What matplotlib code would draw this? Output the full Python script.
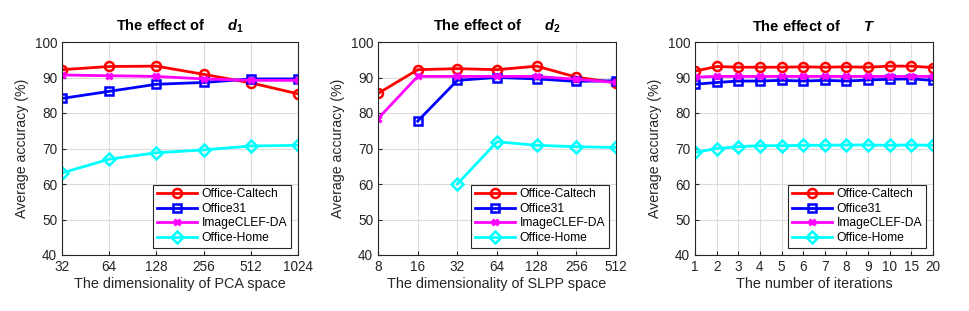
import numpy as np
import matplotlib
matplotlib.use("Agg")
import matplotlib.pyplot as plt

plt.rcParams['font.family'] = ['Liberation Sans', 'DejaVu Sans']
plt.rcParams['mathtext.fontset'] = 'custom'
plt.rcParams['mathtext.it'] = 'Liberation Sans:italic:bold'
plt.rcParams['mathtext.rm'] = 'Liberation Sans:bold'

series_names = ['Office-Caltech', 'Office31', 'ImageCLEF-DA', 'Office-Home']
nan = np.nan

# Panel 1: PCA dimensionality
d1_ticks = ['32', '64', '128', '256', '512', '1024']
d1_caltech = [92.2, 93.1, 93.2, 90.9, 88.5, 85.4]
d1_office31 = [84.1, 86.1, 88.1, 88.6, 89.6, 89.6]
d1_imageclef = [90.7, 90.5, 90.3, 89.6, 89.2, 89.2]
d1_home = [63.1, 67.0, 68.8, 69.6, 70.7, 70.9]

# Panel 2: SLPP dimensionality
d2_ticks = ['8', '16', '32', '64', '128', '256', '512']
d2_caltech = [85.5, 92.2, 92.5, 92.2, 93.2, 90.1, 88.5]
d2_office31 = [nan, 77.7, 89.2, 90.0, 89.6, 88.9, 89.1]
d2_imageclef = [78.4, 90.3, 90.3, 90.3, 90.3, 89.5, 88.6]
d2_home = [nan, nan, 60.0, 71.9, 70.9, 70.5, 70.3]

# Panel 3: iterations
t_ticks = ['1', '2', '3', '4', '5', '6', '7', '8', '9', '10', '15', '20']
t_caltech = [91.8, 93.1, 92.9, 92.9, 92.9, 93.0, 92.9, 93.0, 92.9, 93.2, 93.2, 92.8]
t_office31 = [88.1, 88.6, 89.0, 89.0, 89.2, 89.0, 89.2, 89.0, 89.3, 89.5, 89.6, 89.2]
t_imageclef = [90.1, 90.3, 90.3, 90.3, 90.3, 90.3, 90.3, 90.3, 90.3, 90.3, 90.3, 90.3]
t_home = [68.9, 70.0, 70.5, 70.8, 70.8, 70.9, 70.9, 71.0, 71.0, 70.9, 71.0, 70.9]

titles = [r'The effect of      $d_1$', r'The effect of      $d_2$', r'The effect of      $T$']
xlabels = ['The dimensionality of PCA space', 'The dimensionality of SLPP space',
           'The number of iterations']

panels = [
    (d1_ticks, [d1_caltech, d1_office31, d1_imageclef, d1_home]),
    (d2_ticks, [d2_caltech, d2_office31, d2_imageclef, d2_home]),
    (t_ticks, [t_caltech, t_office31, t_imageclef, t_home]),
]

colors = ['#ff0000', '#0000ff', '#ff00ff', '#00ffff']
markers = ['o', 's', 'x', 'D']
msizes = [6.5, 6, 4.5, 6.2]

W, H = 969, 311
fig = plt.figure(figsize=(W / 100, H / 100), dpi=100)
lefts = [62, 378, 695]
widths = [236, 238, 238]
top_px, bot_px = 42, 255
axcol = '#262626'

for i, (ticks, data) in enumerate(panels):
    ax = fig.add_axes([lefts[i] / W, 1 - bot_px / H, widths[i] / W, (bot_px - top_px) / H])
    x = np.arange(len(ticks))
    for j, ys in enumerate(data):
        mk = markers[j]
        kw = dict(color=colors[j], lw=2.0, marker=mk, markersize=msizes[j],
                  label=series_names[j])
        if mk in ('o', 's', 'D'):
            kw.update(markerfacecolor='none', markeredgewidth=1.8)
        else:
            kw.update(markeredgewidth=2.2)
        ax.plot(x, ys, **kw)
    ax.set_xlim(0, len(ticks) - 1)
    ax.set_ylim(40, 100)
    ax.set_xticks(x)
    ax.set_xticklabels(ticks)
    ax.set_yticks(np.arange(40, 101, 10))
    ax.grid(True, color='#dcdcdc', lw=0.8)
    ax.set_axisbelow(True)
    ax.tick_params(direction='in', labelsize=9.8, colors=axcol, length=3)
    for s in ax.spines.values():
        s.set_color(axcol)
        s.set_linewidth(0.8)
    ax.set_xlabel(xlabels[i], fontsize=10.4, color=axcol, labelpad=2)
    ax.set_ylabel('Average accuracy (%)', fontsize=10.2, color=axcol, labelpad=4)
    ax.set_title(titles[i], fontsize=10.5, fontweight='bold', pad=8)
    leg = ax.legend(loc='lower right', fontsize=8.7, handlelength=3.3,
                    borderaxespad=0.6, fancybox=False, framealpha=1,
                    borderpad=0.3, labelspacing=0.22, handletextpad=0.4)
    leg.get_frame().set_edgecolor(axcol)
    leg.get_frame().set_linewidth(0.8)

fig.savefig('out.png', dpi=100)
